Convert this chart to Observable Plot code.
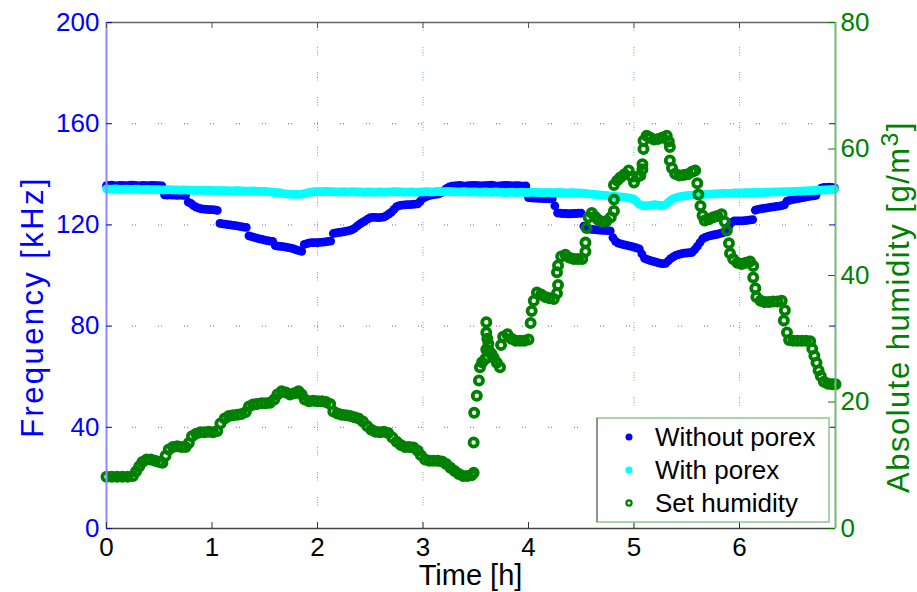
<!DOCTYPE html>
<html><head><meta charset="utf-8">
<script src="https://cdn.jsdelivr.net/npm/d3@7"></script>
<script src="https://cdn.jsdelivr.net/npm/@observablehq/plot@0.6"></script>
<style>
body{margin:0;background:#fff;}
svg{font-family:"Liberation Sans",Arial,sans-serif;}
</style>
</head><body><div id="chart"></div>
<script>
// Time [h] for the frequency measurements
const freqTime = [
0,0.025,0.05,0.075,0.1,0.125,0.15,0.175,0.2,0.225,0.25,0.275,0.3,0.325,0.35,0.375,0.4,0.425,0.45,0.475,
0.5,0.525,0.55,0.575,0.6,0.625,0.65,0.675,0.7,0.725,0.75,0.775,0.8,0.825,0.85,0.875,0.9,0.925,0.95,0.975,
1,1.025,1.05,1.075,1.1,1.125,1.15,1.175,1.2,1.225,1.25,1.275,1.3,1.325,1.35,1.375,1.4,1.425,1.45,1.475,
1.5,1.525,1.55,1.575,1.6,1.625,1.65,1.675,1.7,1.725,1.75,1.775,1.8,1.825,1.85,1.875,1.9,1.925,1.95,1.975,
2,2.025,2.05,2.075,2.1,2.125,2.15,2.175,2.2,2.225,2.25,2.275,2.3,2.325,2.35,2.375,2.4,2.425,2.45,2.475,
2.5,2.525,2.55,2.575,2.6,2.625,2.65,2.675,2.7,2.725,2.75,2.775,2.8,2.825,2.85,2.875,2.9,2.925,2.95,2.975,
3,3.025,3.05,3.075,3.1,3.125,3.15,3.175,3.2,3.225,3.25,3.275,3.3,3.325,3.35,3.375,3.4,3.425,3.45,3.475,
3.5,3.525,3.55,3.575,3.6,3.625,3.65,3.675,3.7,3.725,3.75,3.775,3.8,3.825,3.85,3.875,3.9,3.925,3.95,3.975,
4,4.025,4.05,4.075,4.1,4.125,4.15,4.175,4.2,4.225,4.25,4.275,4.3,4.325,4.35,4.375,4.4,4.425,4.45,4.475,
4.5,4.525,4.55,4.575,4.6,4.625,4.65,4.675,4.7,4.725,4.75,4.775,4.8,4.825,4.85,4.875,4.9,4.925,4.95,4.975,
5,5.025,5.05,5.075,5.1,5.125,5.15,5.175,5.2,5.225,5.25,5.275,5.3,5.325,5.35,5.375,5.4,5.425,5.45,5.475,
5.5,5.525,5.55,5.575,5.6,5.625,5.65,5.675,5.7,5.725,5.75,5.775,5.8,5.825,5.85,5.875,5.9,5.925,5.95,5.975,
6,6.025,6.05,6.075,6.1,6.125,6.15,6.175,6.2,6.225,6.25,6.275,6.3,6.325,6.35,6.375,6.4,6.425,6.45,6.475,
6.5,6.525,6.55,6.575,6.6,6.625,6.65,6.675,6.7,6.725,6.75,6.775,6.8,6.825,6.85,6.875,6.9];
// Frequency [kHz] without porex
const withoutPorex = [
135.5,135.6,135.7,135.5,135.4,135.6,135.6,135.5,135.5,135.7,135.7,135.6,135.4,135.5,135.6,135.5,135.5,135.6,135.6,135.5,
135.5,135.4,131.9,131.8,131.9,131.8,131.8,131.7,131.8,131.7,131.7,129.0,128.5,127.6,127.0,126.6,126.3,126.2,126.1,126.0,
126.0,125.9,125.7,120.6,120.4,120.3,120.1,120.0,119.8,119.7,119.5,119.3,119.1,119.0,115.7,115.4,115.1,114.8,114.5,114.3,
114.0,113.8,113.6,113.5,111.8,111.6,111.5,111.4,111.2,111.0,110.8,110.5,110.1,109.8,109.5,112.3,112.6,112.9,113.0,113.0,
113.0,113.1,113.2,113.3,113.5,113.6,116.6,116.8,117.0,117.1,117.3,117.5,117.7,118.0,118.6,119.5,120.3,121.0,121.6,122.3,
122.9,123.0,123.0,122.9,123.0,123.1,123.6,124.3,125.0,126.1,127.2,127.6,127.8,127.9,128.0,128.0,128.1,128.2,128.3,129.4,
130.6,131.1,131.5,131.8,132.0,132.1,132.3,132.8,133.6,134.4,135.0,135.3,135.4,135.5,135.6,135.4,135.3,135.5,135.5,135.6,
135.6,135.5,135.4,135.5,135.5,135.6,135.7,135.5,135.3,135.4,135.5,135.6,135.6,135.5,135.4,135.5,135.5,135.4,135.3,135.4,
130.8,130.7,130.6,130.6,130.5,130.5,130.4,130.4,130.3,130.3,127.5,124.7,124.6,124.5,124.5,124.4,124.4,124.5,124.5,124.6,
124.6,119.5,118.8,118.3,118.2,118.1,118.0,117.9,117.8,117.8,117.7,117.6,115.0,113.5,112.8,112.5,112.2,112.0,111.7,111.5,
111.2,110.9,110.5,108.5,106.8,106.4,106.0,105.7,105.4,105.1,104.8,104.7,104.8,105.8,106.8,107.5,108.0,108.3,108.6,108.8,
108.9,109.0,109.1,110.2,111.5,113.0,114.5,115.1,115.5,115.8,116.0,116.2,116.4,116.7,117.0,118.0,119.5,121.0,121.6,121.6,
121.6,121.6,121.7,121.8,122.0,122.1,125.8,126.1,126.3,126.5,126.6,126.8,127.0,127.1,127.3,127.4,127.6,127.9,129.4,129.7,
130.0,130.2,130.4,130.6,130.8,131.0,131.2,131.4,131.5,131.7,133.5,134.5,134.8,134.8,134.9,134.8,134.6];
// Frequency [kHz] with porex
const withPorex = [
134.2,134.1,134.1,134.2,134.2,134.0,134.0,134.1,134.1,134.0,134.0,134.1,134.1,133.9,133.9,134.0,134.0,133.9,133.9,133.9,
133.9,133.8,133.8,133.9,133.9,133.8,133.8,133.8,133.7,133.8,133.8,133.7,133.7,133.6,133.6,133.7,133.7,133.6,133.6,133.6,
133.6,133.5,133.5,133.6,133.6,133.5,133.5,133.4,133.4,133.5,133.5,133.4,133.4,133.3,133.3,133.4,133.4,133.3,133.2,133.2,
133.2,133.1,133.0,132.9,132.8,132.7,132.6,132.4,132.3,132.2,132.2,132.1,132.1,132.1,132.2,132.4,132.6,132.8,133.0,133.1,
133.2,133.1,133.1,133.2,133.2,133.1,133.1,133.0,133.0,133.1,133.1,133.0,133.0,133.1,133.1,133.0,133.0,132.9,132.9,133.0,
133.0,132.9,132.9,133.0,133.0,132.9,132.9,133.0,133.0,133.1,133.1,133.0,133.0,132.9,132.9,133.0,133.0,132.9,132.9,133.0,
133.0,133.1,133.1,133.0,133.0,133.2,133.2,133.1,133.1,133.2,133.2,133.1,133.1,133.0,133.0,133.1,133.1,133.0,133.0,133.0,
133.0,132.9,132.9,133.0,133.0,132.9,132.9,133.0,133.0,132.9,132.9,132.8,132.8,132.9,132.9,132.8,132.8,132.9,132.9,132.8,
132.8,132.9,132.9,132.8,132.8,132.7,132.7,132.8,132.8,132.7,132.7,132.8,132.8,132.7,132.6,132.6,132.7,132.7,132.6,132.6,
132.6,132.5,132.4,132.3,132.2,132.1,132.0,131.9,131.8,131.7,131.6,131.5,131.4,131.3,131.2,131.1,131.0,130.9,130.7,130.5,
130.2,129.2,128.2,127.7,127.5,127.6,127.7,127.9,128.0,127.8,127.6,127.7,128.0,128.9,129.8,130.4,130.8,131.1,131.3,131.5,
131.6,131.7,131.8,131.9,132.0,132.0,132.1,132.1,132.2,132.2,132.3,132.3,132.4,132.4,132.5,132.5,132.5,132.5,132.6,132.6,
132.6,132.6,132.7,132.7,132.7,132.7,132.8,132.8,132.8,132.8,132.9,132.9,133.0,133.0,133.0,133.0,133.1,133.1,133.1,133.1,
133.2,133.2,133.3,133.3,133.4,133.4,133.5,133.5,133.6,133.6,133.7,133.7,133.8,133.8,133.9,133.9,134.0];
// Time [h] for the set humidity
const humTime = [
0,0.05,0.1,0.15,0.2,0.25,0.28,0.31,0.34,0.38,
0.42,0.46,0.5,0.53,0.56,0.59,0.63,0.67,0.71,0.75,
0.78,0.81,0.85,0.89,0.93,0.97,1.01,1.05,1.08,1.12,
1.16,1.2,1.24,1.28,1.32,1.35,1.39,1.43,1.47,1.51,
1.55,1.59,1.62,1.66,1.7,1.74,1.78,1.82,1.85,1.88,
1.92,1.96,2,2.04,2.08,2.12,2.15,2.19,2.23,2.27,
2.31,2.35,2.39,2.43,2.47,2.51,2.55,2.59,2.63,2.67,
2.71,2.75,2.79,2.83,2.87,2.91,2.95,2.98,3.02,3.06,
3.1,3.14,3.18,3.22,3.26,3.3,3.34,3.38,3.42,3.46,
3.48,3.48,3.485,3.51,3.53,3.54,3.56,3.59,3.6,3.6,
3.6,3.61,3.62,3.63,3.65,3.67,3.7,3.73,3.74,3.76,
3.8,3.84,3.88,3.92,3.96,4,4.02,4.03,4.05,4.08,
4.12,4.16,4.2,4.24,4.27,4.28,4.27,4.28,4.31,4.35,
4.39,4.43,4.47,4.51,4.54,4.54,4.55,4.57,4.6,4.63,
4.66,4.7,4.74,4.78,4.81,4.81,4.81,4.84,4.87,4.91,
4.95,4.98,5,5.03,5.06,5.08,5.08,5.09,5.09,5.12,
5.15,5.19,5.23,5.27,5.31,5.33,5.34,5.34,5.36,5.39,
5.43,5.47,5.51,5.55,5.58,5.6,5.61,5.63,5.65,5.67,
5.71,5.75,5.79,5.83,5.86,5.88,5.9,5.91,5.94,5.98,
6.02,6.06,6.1,6.13,6.13,6.15,6.16,6.2,6.24,6.28,
6.32,6.36,6.4,6.43,6.42,6.45,6.47,6.51,6.55,6.59,
6.63,6.67,6.69,6.71,6.73,6.75,6.77,6.8,6.84,6.88,
6.91];
// Absolute humidity [g/m^3]
const humidity = [
8.2,8.2,8.2,8.2,8.2,8.3,9.0,9.8,10.5,10.9,
10.9,10.7,10.5,10.4,11.5,12.5,12.9,13.0,12.9,12.9,
13.5,14.6,15.0,15.2,15.2,15.3,15.2,15.4,16.6,17.4,
17.8,17.9,18.0,18.1,18.4,19.3,19.6,19.7,19.8,19.8,
19.9,20.4,21.2,21.7,21.5,21.2,21.4,21.7,21.2,20.4,
20.1,20.2,20.1,20.1,20.0,19.7,18.5,18.2,18.0,17.9,
17.8,17.6,17.4,16.9,16.2,15.6,15.3,15.2,15.3,15.1,
14.4,13.7,13.2,12.9,12.9,12.8,12.3,11.6,10.9,10.7,
10.7,10.7,10.6,10.2,9.6,9.1,8.6,8.3,8.3,8.4,
8.8,13.6,18.3,21.0,23.4,25.5,26.3,26.8,28.3,31.0,
32.6,30.0,29.2,28.0,27.6,27.0,26.2,25.5,29.0,30.3,
30.7,30.0,29.7,29.7,29.7,29.9,32.5,34.4,36.0,37.3,
37.0,36.6,36.4,36.3,37.2,38.5,40.5,41.6,43.0,43.3,
42.8,42.6,42.6,42.6,43.8,45.2,47.5,49.2,49.9,49.3,
48.8,48.5,48.6,49.2,50.2,52.0,54.3,55.0,55.5,56.0,
56.6,55.6,54.7,55.6,55.8,56.8,57.6,60.0,61.3,62.1,
61.8,61.5,61.6,61.8,62.1,61.2,60.3,58.2,57.0,56.1,
55.8,55.9,56.0,56.4,56.6,54.6,52.8,51.0,49.5,48.7,
48.9,49.2,49.4,49.7,48.5,47.1,45.1,43.5,42.6,42.0,
41.8,42.0,42.2,41.5,39.7,38.0,36.6,36.0,35.8,35.8,
35.9,35.9,36.0,34.5,32.9,31.0,29.8,29.7,29.7,29.7,
29.7,29.6,28.4,27.3,26.2,25.0,24.1,23.2,22.9,22.8,
22.8];

const freqTicks = [0, 40, 80, 120, 160, 200];
const humTicks = [0, 20, 40, 60, 80];
const timeTicks = [0, 1, 2, 3, 4, 5, 6];
const gridTimes = [2, 3, 5, 6];
const gridFreqs = [40, 80, 120, 160];
const seriesNames = ["Without porex", "With porex", "Set humidity"];
const timeMax = 6.91;
const freqMax = 200, humMax = 80;
const k = freqMax / humMax; // humidity -> shared y scale

const BLUE = "#0000ff", CYAN = "#00ffff", GREEN = "#008000";

const freqRows = freqTime.map((t, i) => ({t, a: withoutPorex[i], b: withPorex[i]}));
const humRows = humTime.map((t, i) => ({t, h: humidity[i]}));

const W = 917, H = 592, mL = 106, mR = 82, mT = 22, mB = 64;
const pw = W - mL - mR, ph = H - mT - mB;

const chart = Plot.plot({
  width: W, height: H,
  marginLeft: mL, marginRight: mR, marginTop: mT, marginBottom: mB,
  style: {fontFamily: '"Liberation Sans", Arial, sans-serif', fontSize: "26px", background: "white", overflow: "visible"},
  x: {domain: [0, timeMax]},
  y: {domain: [0, freqMax]},
  marks: [
    // grid
    Plot.ruleY(gridFreqs, {stroke: "#5c5cff", strokeWidth: 1, strokeDasharray: "1,2,1,22"}),
    Plot.ruleX(gridTimes, {stroke: "#4a9f4a", strokeWidth: 1, strokeOpacity: 0.8, strokeDasharray: "1,1.5,1,1.5,1,1.5,1,16.5"}),
    // data
    Plot.dot(freqRows, {x: "t", y: "a", r: 4.4, fill: BLUE, clip: false}),
    Plot.dot(freqRows, {x: "t", y: "b", r: 4.4, fill: CYAN, clip: false}),
    Plot.dot(humRows, {x: "t", y: d => d.h * k, r: 4.1, fill: "none", stroke: GREEN, strokeWidth: 3.8, clip: false}),
    // frame
    Plot.ruleY([freqMax], {stroke: "#666666", strokeWidth: 1.5}),
    Plot.ruleY([0], {stroke: "#444444", strokeWidth: 1.5}),
    Plot.ruleX([0], {stroke: "#8c8cff", strokeWidth: 2}),
    Plot.ruleX([timeMax], {stroke: "#74b874", strokeWidth: 2}),
    // inward ticks
    Plot.tickY(freqTicks, {y: d => d, insetRight: pw - 6, stroke: BLUE}),
    Plot.tickY(gridFreqs, {y: d => d, insetLeft: pw - 6, stroke: BLUE}),
    Plot.tickY(humTicks, {y: d => d * k, insetLeft: pw - 7, stroke: GREEN}),
    Plot.tickX(timeTicks, {x: d => d, insetTop: ph - 6, stroke: "#333333"}),
    Plot.tickX(timeTicks, {x: d => d, insetBottom: ph - 6, stroke: "#555555"}),
    // tick labels
    Plot.axisY(freqTicks, {anchor: "left", tickSize: 0, tickPadding: 7, color: BLUE, fontSize: 26, label: null}),
    Plot.axisY(humTicks.map(v => v * k), {anchor: "right", tickSize: 0, tickPadding: 5, color: GREEN, fontSize: 26, label: null, tickFormat: d => d / k}),
    Plot.axisX(timeTicks, {anchor: "bottom", tickSize: 0, tickPadding: 9, color: "black", fontSize: 26, label: null})
  ]
});

const svg = d3.select(chart);
const font = '"Liberation Sans", Arial, sans-serif';
// axis titles
svg.append("text").attr("transform", "translate(43,307) rotate(-90)")
  .attr("text-anchor", "middle").attr("fill", BLUE).attr("font-size", 31).attr("font-family", font)
  .attr("letter-spacing", "2.4px")
  .text("Frequency [kHz]");
const rt = svg.append("text").attr("transform", "translate(909,307) rotate(-90)")
  .attr("text-anchor", "middle").attr("fill", GREEN).attr("font-size", 31).attr("font-family", font)
  .attr("letter-spacing", "1.5px");
rt.append("tspan").text("Absolute humidity [g/m");
rt.append("tspan").attr("dy", "-0.45em").attr("font-size", "0.8em").text("3");
rt.append("tspan").attr("dy", "0.36em").text("]");
svg.append("text").attr("x", mL + pw / 2).attr("y", 585)
  .attr("text-anchor", "middle").attr("fill", "black").attr("font-size", 29).attr("font-family", font)
  .text("Time [h]");

// legend
const lg = svg.append("g");
lg.append("rect").attr("x", 597).attr("y", 418).attr("width", 232).attr("height", 104)
  .attr("fill", "white").attr("stroke", "#8cc68c").attr("stroke-width", 1.5);
lg.append("line").attr("x1", 597).attr("x2", 597).attr("y1", 418).attr("y2", 522)
  .attr("stroke", "#808080").attr("stroke-width", 1.5);
const rows = [
  {name: seriesNames[0], y: 437, fill: BLUE, stroke: "none", sw: 0, r: 3.5},
  {name: seriesNames[1], y: 470, fill: CYAN, stroke: "none", sw: 0, r: 3.5},
  {name: seriesNames[2], y: 503, fill: "none", stroke: GREEN, sw: 2.2, r: 2.6}
];
for (const r of rows) {
  lg.append("circle").attr("cx", 629).attr("cy", r.y).attr("r", r.r)
    .attr("fill", r.fill).attr("stroke", r.stroke).attr("stroke-width", r.sw);
  lg.append("text").attr("x", 655).attr("y", r.y).attr("dy", "0.35em").attr("text-anchor", "start")
    .attr("fill", "black").attr("font-size", 26).attr("font-family", font).text(r.name);
}

document.getElementById("chart").appendChild(chart);
</script>
</body></html>
